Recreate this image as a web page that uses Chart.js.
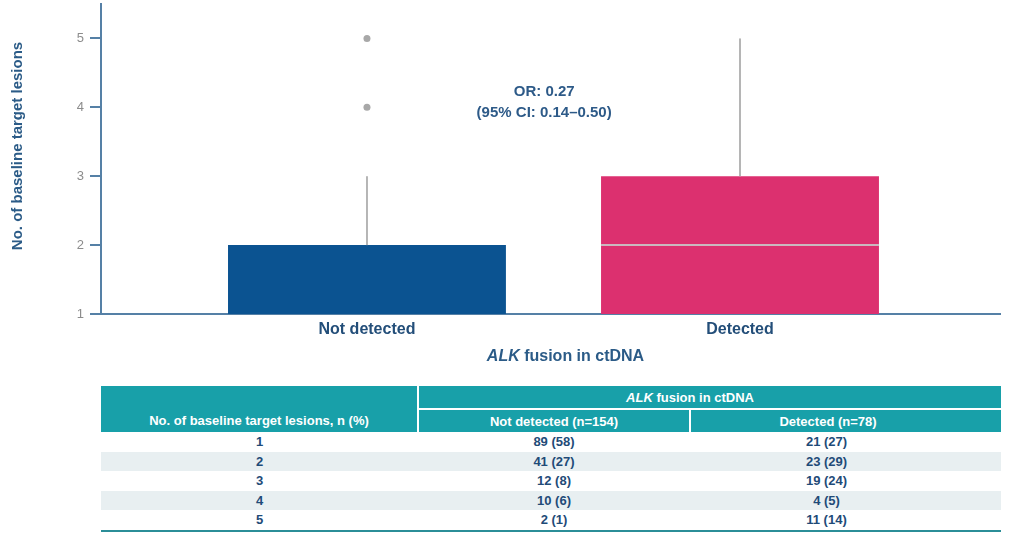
<!DOCTYPE html>
<html>
<head>
<meta charset="utf-8">
<script src="https://cdn.jsdelivr.net/npm/chart.js@4"></script>
<style>
  body { margin: 0; background: #fff; font-family: 'Liberation Sans', Arial, sans-serif; }
  #wrap { position: absolute; left: 0; top: 0; width: 1025px; height: 380px; }
  table { position: absolute; left: 101px; top: 386px; width: 900px; border-collapse: collapse; table-layout: fixed;
          font-size: 13px; font-weight: bold; font-family: 'Liberation Sans', Arial, sans-serif; }
  th { background: #18a0a9; color: #fff; padding: 0; font-weight: bold; }
  td { color: #1f4b78; text-align: center; height: 19.5px; padding: 0; }
  tbody tr:nth-child(even) td { background: #e8eff1; }
  tbody tr:last-child td { border-bottom: 2px solid #2b8e98; }
</style>
</head>
<body>
<div id="wrap"><canvas id="chart" width="1025" height="380"></canvas></div>
<table id="counts">
  <colgroup><col style="width:317px"><col style="width:272px"><col style="width:311px"></colgroup>
  <thead></thead>
  <tbody></tbody>
</table>
<script>
// chart data
const groups = ['Not detected', 'Detected'];
const groupPos = [1, 2];
const boxLow = [1, 1];
const boxHigh = [2, 3];
const medians = [1, 2];
const whiskerTop = [3, 5];
const outlierValues = [[4, 5], []];
const boxColors = ['#0b5391', '#dc306f'];
const yTicks = [1, 2, 3, 4, 5];
const oddsText = ['OR: 0.27', '(95% CI: 0.14\u20130.50)'];

// table data
const lesionCounts = ['1', '2', '3', '4', '5'];
const notDetectedCells = ['89 (58)', '41 (27)', '12 (8)', '10 (6)', '2 (1)'];
const detectedCells = ['21 (27)', '23 (29)', '19 (24)', '4 (5)', '11 (14)'];

const axisColor = '#5580a6';
const textBlue = '#2b5b87';
const fontFamily = "'Liberation Sans', Arial, sans-serif";

// whiskers, medians, titles and the OR note
const extrasPlugin = {
  id: 'extras',
  afterDatasetsDraw(chart) {
    const { ctx, scales: { x, y } } = chart;
    const bars = chart.getDatasetMeta(0).data;
    ctx.save();
    ctx.lineWidth = 2;
    groupPos.forEach((g, i) => {
      const px = x.getPixelForValue(g);
      ctx.strokeStyle = '#b5b5b5';
      ctx.beginPath();
      ctx.moveTo(px, y.getPixelForValue(boxHigh[i]));
      ctx.lineTo(px, y.getPixelForValue(whiskerTop[i]));
      ctx.stroke();
      if (medians[i] > boxLow[i] && medians[i] < boxHigh[i]) {
        const bar = bars[i];
        const py = y.getPixelForValue(medians[i]);
        ctx.strokeStyle = 'rgba(200,200,200,0.9)';
        ctx.beginPath();
        ctx.moveTo(bar.x - bar.width / 2, py);
        ctx.lineTo(bar.x + bar.width / 2, py);
        ctx.stroke();
      }
    });
    ctx.restore();
  },
  afterDraw(chart) {
    const { ctx, chartArea, scales: { x, y } } = chart;
    ctx.save();
    ctx.fillStyle = textBlue;
    ctx.textBaseline = 'middle';

    // y title
    ctx.save();
    ctx.translate(18, 146);
    ctx.rotate(-Math.PI / 2);
    ctx.textAlign = 'center';
    ctx.font = 'bold 15px ' + fontFamily;
    ctx.fillText('No. of baseline target lesions', 0, 0);
    ctx.restore();

    // x title, ALK in italics
    const italicFont = 'italic bold 16px ' + fontFamily;
    const boldFont = 'bold 16px ' + fontFamily;
    ctx.font = italicFont;
    const w1 = ctx.measureText('ALK').width;
    ctx.font = boldFont;
    const w2 = ctx.measureText(' fusion in ctDNA').width;
    const cx = (chartArea.left + chartArea.right) / 2 + 15;
    let sx = cx - (w1 + w2) / 2;
    ctx.textAlign = 'left';
    ctx.font = italicFont;
    ctx.fillText('ALK', sx, 357);
    ctx.font = boldFont;
    ctx.fillText(' fusion in ctDNA', sx + w1, 357);

    // odds ratio note
    ctx.textAlign = 'center';
    ctx.font = 'bold 15px ' + fontFamily;
    ctx.fillStyle = '#2d5a88';
    const nx = x.getPixelForValue(1.475);
    const ny = y.getPixelForValue(4.23);
    oddsText.forEach((t, i) => ctx.fillText(t, nx, ny + i * 21));
    ctx.restore();
  }
};

const outlierPoints = [];
outlierValues.forEach((vals, i) => vals.forEach(v => outlierPoints.push({ x: groupPos[i], y: v })));

new Chart(document.getElementById('chart'), {
  type: 'bar',
  data: {
    datasets: [{
      data: groupPos.map((g, i) => ({ x: g, y: [boxLow[i], boxHigh[i]] })),
      backgroundColor: boxColors,
      borderWidth: 0,
      barPercentage: 0.745,
      categoryPercentage: 1
    }, {
      type: 'scatter',
      data: outlierPoints,
      pointRadius: 3.5,
      pointBackgroundColor: '#a8a8a8',
      pointBorderWidth: 0
    }]
  },
  options: {
    responsive: false,
    animation: false,
    layout: { padding: { top: 4, right: 25, left: 0, bottom: 0 } },
    plugins: { legend: { display: false }, tooltip: { enabled: false } },
    scales: {
      x: {
        type: 'linear',
        offset: false,
        min: 0.287,
        max: 2.697,
        afterBuildTicks: s => { s.ticks = groupPos.map(v => ({ value: v })); },
        afterFit: s => { s.height = 66; s.paddingLeft = 0; s.paddingRight = 0; },
        ticks: {
          callback: v => groups[groupPos.indexOf(v)],
          color: '#234e79',
          font: { family: fontFamily, size: 16, weight: 'bold' },
          padding: -2,
          maxRotation: 0
        },
        grid: { display: false },
        border: { color: axisColor, width: 2 }
      },
      y: {
        min: 1,
        max: 5.5,
        afterBuildTicks: s => { s.ticks = yTicks.map(v => ({ value: v })); },
        afterFit: s => { s.width = 101; s.paddingTop = 0; s.paddingBottom = 0; },
        ticks: { color: '#8c8c8c', font: { family: fontFamily, size: 13 }, padding: 6 },
        grid: { drawOnChartArea: false, tickLength: 11, color: axisColor, lineWidth: 2 },
        border: { color: axisColor, width: 2 }
      }
    }
  },
  plugins: [extrasPlugin]
});

// table below the chart
const thead = document.querySelector('#counts thead');
thead.innerHTML =
  '<tr><th rowspan="2" style="vertical-align:bottom;padding-bottom:4px;border-right:2px solid #fff">No. of baseline target lesions, n (%)</th>' +
  '<th colspan="2" style="height:22px;padding-right:40px"><i>ALK</i> fusion in ctDNA</th></tr>' +
  '<tr><th style="height:22px;border-top:2px solid #fff">Not detected (n=154)</th>' +
  '<th style="border-top:2px solid #fff;border-left:2px solid #fff;padding-right:36px">Detected (n=78)</th></tr>';
const tbody = document.querySelector('#counts tbody');
lesionCounts.forEach((c, i) => {
  const tr = document.createElement('tr');
  tr.innerHTML = '<td>' + c + '</td><td>' + notDetectedCells[i] +
    '</td><td style="padding-right:38px">' + detectedCells[i] + '</td>';
  tbody.appendChild(tr);
});
</script>
</body>
</html>
